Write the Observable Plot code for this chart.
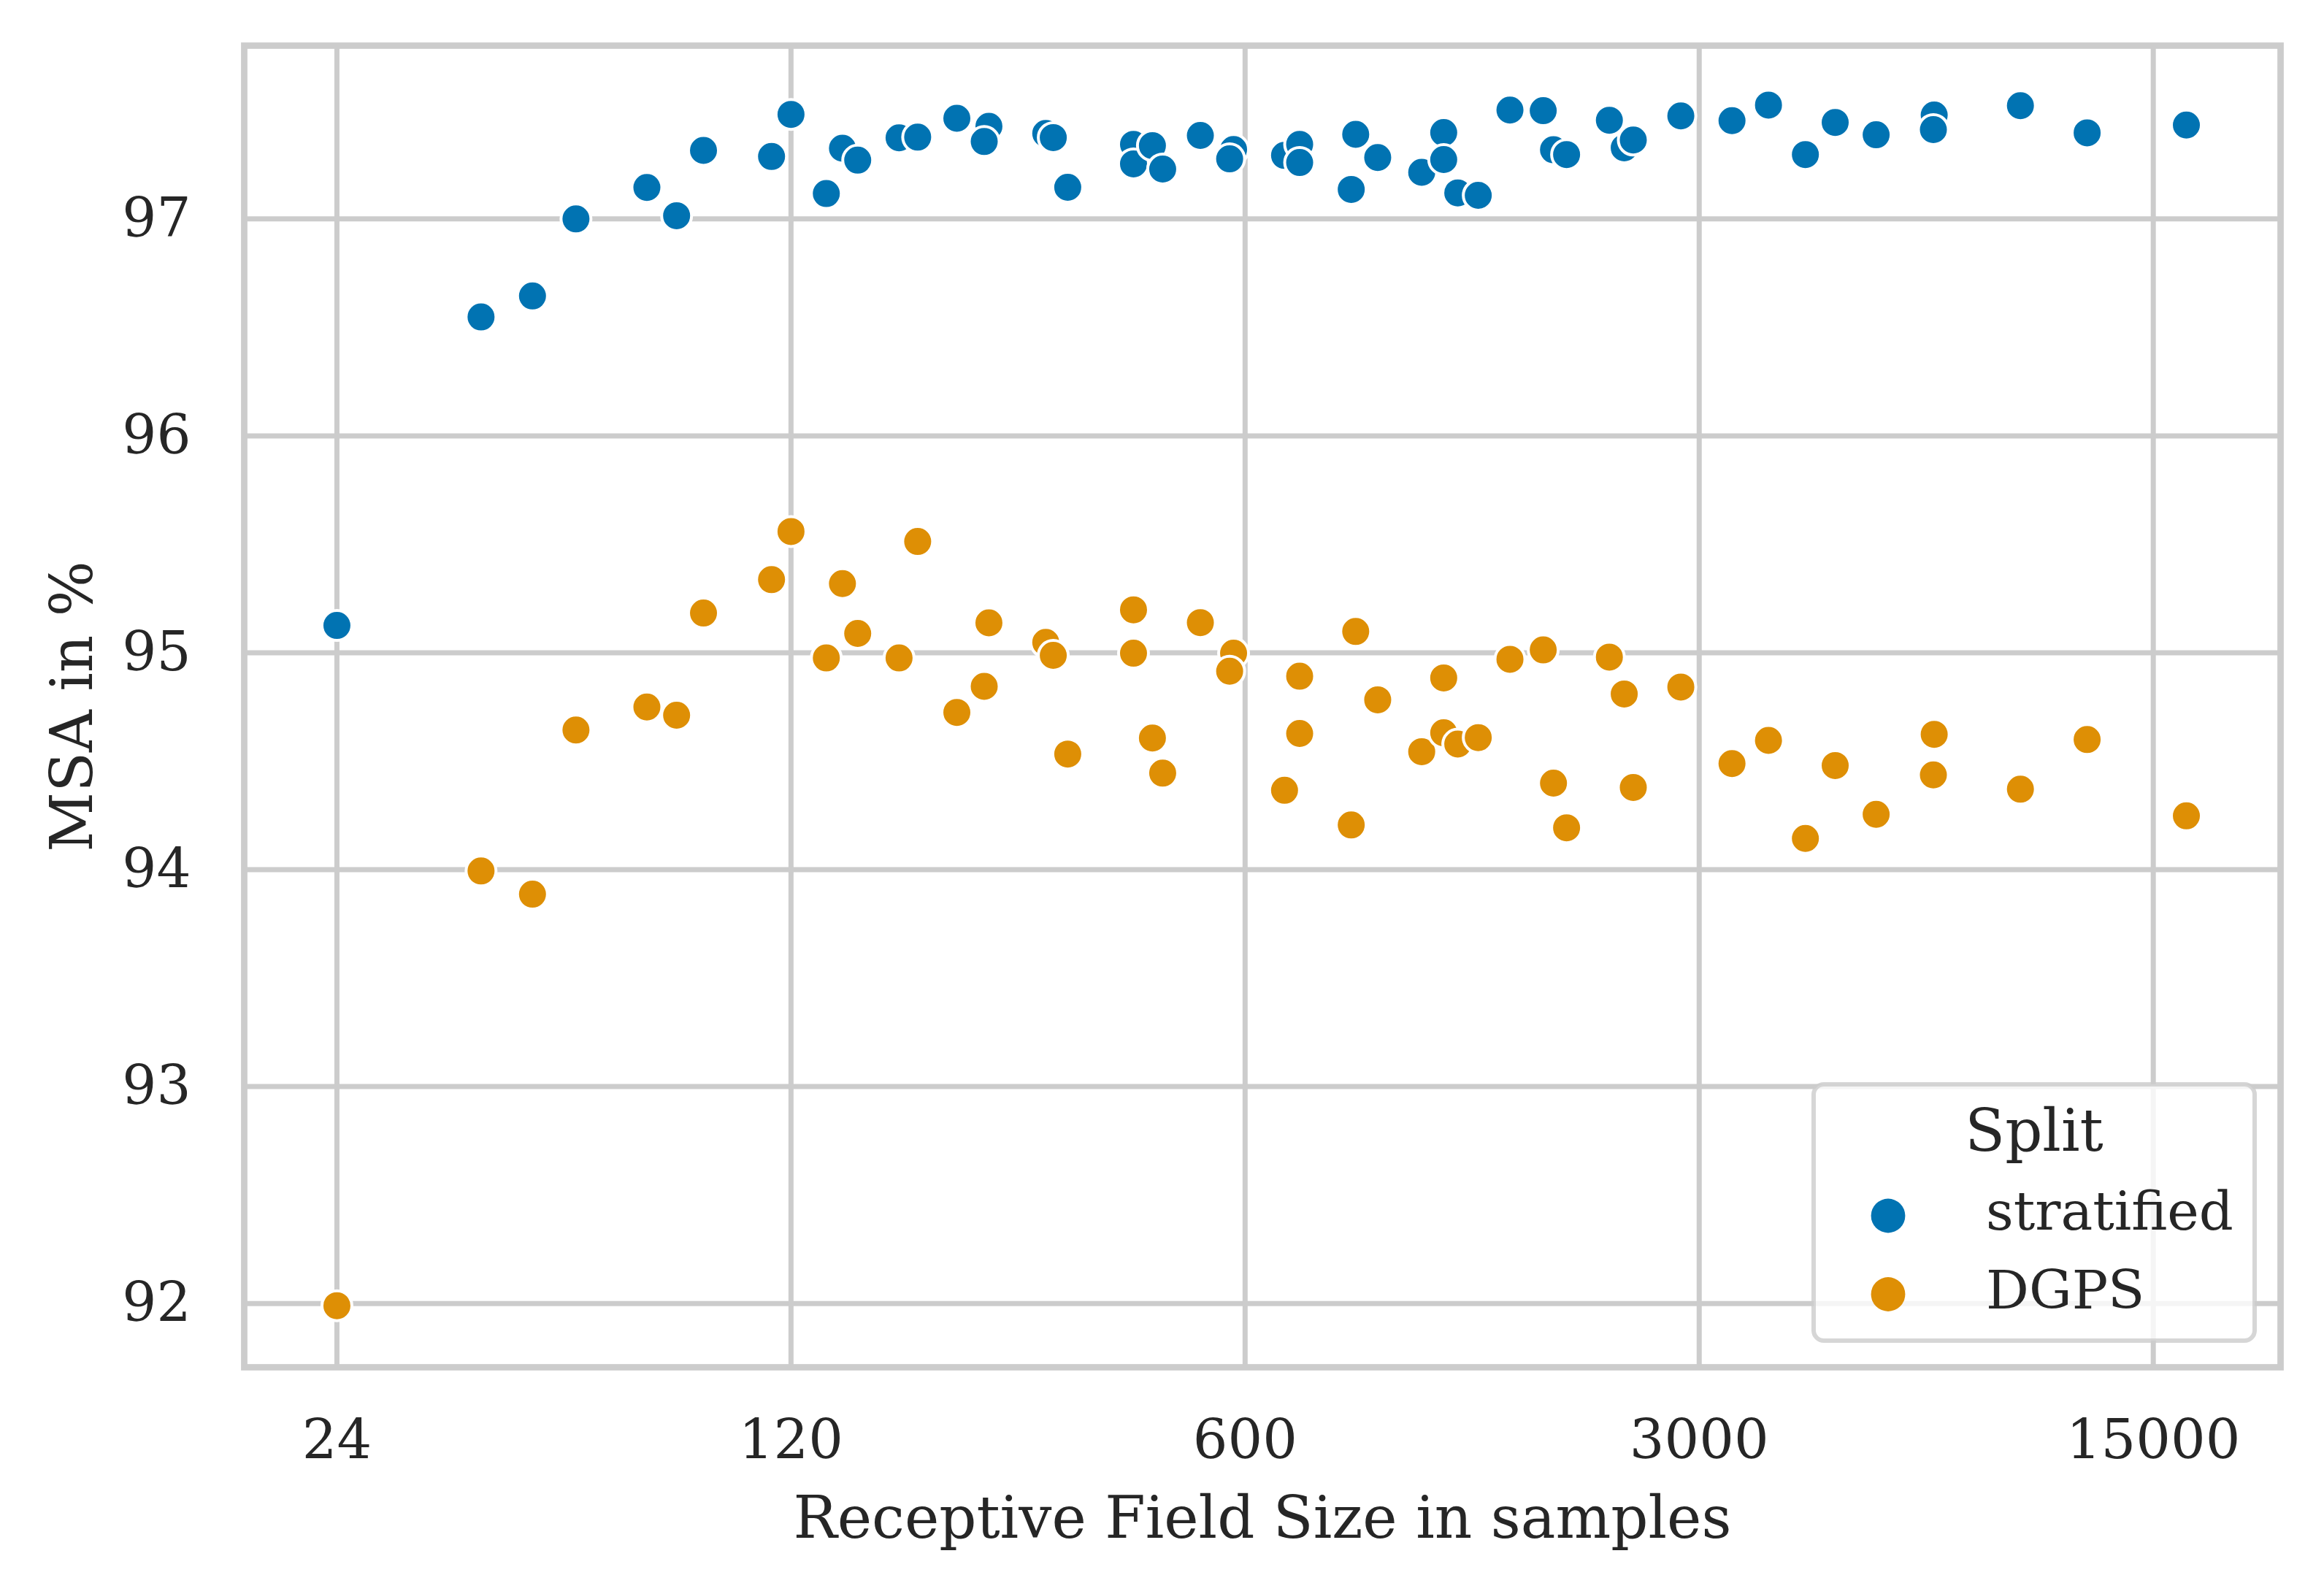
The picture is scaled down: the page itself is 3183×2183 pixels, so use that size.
<!DOCTYPE html>
<html>
<head>
<meta charset="utf-8">
<script src="https://cdn.jsdelivr.net/npm/d3@7"></script>
<script src="https://cdn.jsdelivr.net/npm/@observablehq/plot@0.6"></script>
<style>
  html, body { margin: 0; padding: 0; background: white; }
</style>
</head>
<body>
<div id="chart"></div>
<script>
// Receptive field size (samples) of each model
const fieldSize = [24, 40, 48, 56, 72, 80, 88, 112, 120, 136, 144, 152, 176, 188, 216, 242, 238,
  296, 304, 320, 404, 404, 432, 448, 512, 576, 568, 690, 728, 728, 888, 874, 960, 1122, 1213, 1213,
  1275, 1371, 1534, 1726, 1790, 1875, 2182, 2300, 2375, 2811, 3370, 3835, 4371, 4858, 5617, 6900,
  6880, 9366, 11865, 16867];
// MSA in % for the stratified split
const stratified = [95.126, 96.548, 96.645, 97.00, 97.145, 97.015, 97.316, 97.288, 97.482, 97.117,
  97.326, 97.271, 97.374, 97.377, 97.464, 97.427, 97.357, 97.394, 97.375, 97.146, 97.344, 97.254,
  97.338, 97.230, 97.385, 97.32, 97.277, 97.293, 97.344, 97.26, 97.39, 97.136, 97.283, 97.215, 97.398,
  97.274, 97.12, 97.109, 97.502, 97.499, 97.319, 97.297, 97.455, 97.328, 97.364, 97.475, 97.453,
  97.525, 97.297, 97.445, 97.388, 97.479, 97.412, 97.522, 97.397, 97.433];
// MSA in % for the DGPS split
const dgps = [91.99, 93.994, 93.887, 94.644, 94.75, 94.712, 95.183, 95.337, 95.559, 94.976, 95.319,
  95.089, 94.976, 95.513, 94.725, 95.138, 94.845, 95.048, 94.988, 94.533, 95.198, 94.998, 94.607,
  94.445, 95.139, 94.998, 94.915, 94.366, 94.892, 94.628, 95.098, 94.206, 94.783, 94.544, 94.884,
  94.631, 94.579, 94.609, 94.97, 95.013, 94.399, 94.193, 94.98, 94.81, 94.379, 94.842, 94.489,
  94.596, 94.144, 94.48, 94.255, 94.624, 94.437, 94.371, 94.60, 94.248];

const splits = ["stratified", "DGPS"];
const splitColors = ["#0173b2", "#de8f05"];
const xTicks = [24, 120, 600, 3000, 15000];
const yTicks = [92, 93, 94, 95, 96, 97];
const xLabel = "Receptive Field Size in samples";
const yLabel = "MSA in %";
const legendTitle = "Split";

const points = [];
fieldSize.forEach((s, i) => {
  points.push({size: s, msa: stratified[i], split: "stratified"});
  points.push({size: s, msa: dgps[i], split: "DGPS"});
});

const W = 3183, H = 2183;
const mL = 334, mR = 60, mT = 62, mB = 311;

const chart = Plot.plot({
  width: W, height: H,
  marginLeft: mL, marginRight: mR, marginTop: mT, marginBottom: mB,
  style: {fontFamily: "'DejaVu Serif', serif", fontSize: "75px", color: "#262626", background: "white"},
  x: {type: "log", domain: [17.28, 23550]},
  y: {domain: [91.706, 97.799]},
  color: {domain: splits, range: splitColors},
  marks: [
    Plot.gridX(xTicks, {stroke: "#cccccc", strokeOpacity: 1, strokeWidth: 7}),
    Plot.gridY(yTicks, {stroke: "#cccccc", strokeOpacity: 1, strokeWidth: 7}),
    Plot.frame({stroke: "#cccccc", strokeWidth: 8.75}),
    Plot.axisX(xTicks, {tickSize: 0, tickPadding: 71, tickFormat: d => String(d), label: null, fontSize: 75, fill: "#262626"}),
    Plot.axisY(yTicks, {tickSize: 0, tickPadding: 73, tickFormat: d => String(d), label: null, fontSize: 74, fill: "#262626"}),
    Plot.dot(points, {x: "size", y: "msa", fill: "split", r: 20.5, stroke: "white", strokeWidth: 4}),
    Plot.text([xLabel], {text: d => d, frameAnchor: "bottom", textAnchor: "middle", lineAnchor: "middle", dy: 208, fontSize: 80, fill: "#262626"}),
    Plot.text([yLabel], {text: d => d, frameAnchor: "left", textAnchor: "middle", lineAnchor: "middle", rotate: -90, dx: -234, fontSize: 80, fill: "#262626"})
  ]
});

document.getElementById("chart").appendChild(chart);

// Legend (inside the plot area, lower right)
const svg = d3.select(chart);
const lg = svg.append("g").attr("font-family", "'DejaVu Serif', serif").attr("fill", "#262626");
lg.append("rect")
  .attr("x", 2484).attr("y", 1485).attr("width", 604).attr("height", 351)
  .attr("rx", 14).attr("ry", 14)
  .attr("fill", "white").attr("fill-opacity", 0.8)
  .attr("stroke", "#cccccc").attr("stroke-opacity", 0.8).attr("stroke-width", 6);
lg.append("text")
  .attr("x", 2786).attr("y", 1576).attr("text-anchor", "middle")
  .attr("font-size", 80).text(legendTitle);
splits.forEach((s, i) => {
  const cy = 1665 + i * 107.5;
  lg.append("circle").attr("cx", 2586).attr("cy", cy).attr("r", 23.4).attr("fill", splitColors[i]);
  lg.append("text").attr("x", 2720).attr("y", cy + 19).attr("text-anchor", "start")
    .attr("font-size", 73.5).text(s);
});
</script>
</body>
</html>
